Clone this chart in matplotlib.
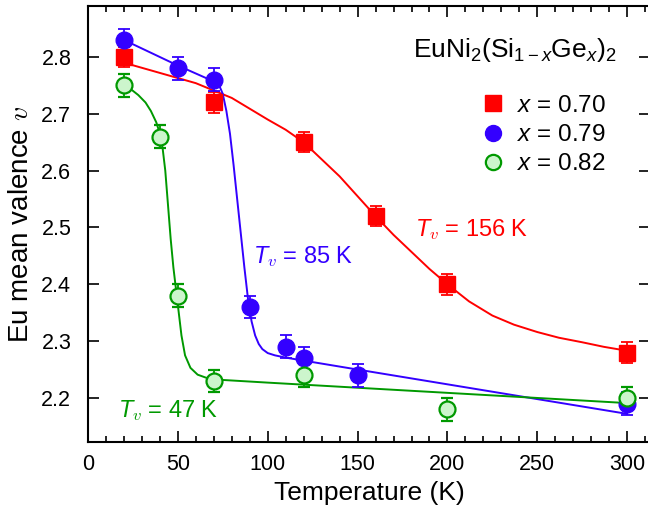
import matplotlib
matplotlib.use("Agg")
import matplotlib.pyplot as plt
from matplotlib.lines import Line2D

plt.rcParams.update({"font.family": ["Liberation Sans", "DejaVu Sans"],
                     "mathtext.fontset": "custom", "mathtext.rm": "Liberation Sans",
                     "mathtext.it": "Liberation Sans:italic", "mathtext.cal": "cmmi10",
                     "axes.linewidth": 1.5})
RED, BLUE, GREEN, GFILL = "#ff0000", "#3300ff", "#009900", "#ccf5cc"

# measured points
t_070 = [20, 70, 120, 160, 200, 300]
v_070 = [2.80, 2.72, 2.65, 2.52, 2.40, 2.28]
t_079 = [20, 50, 70, 90, 110, 120, 150, 300]
v_079 = [2.83, 2.78, 2.76, 2.36, 2.29, 2.27, 2.24, 2.19]
t_082 = [20, 40, 50, 70, 120, 200, 300]
v_082 = [2.75, 2.66, 2.38, 2.23, 2.24, 2.18, 2.20]
err_070, err_079, err_082 = 0.018, 0.02, 0.02

# fit curves
ft_070 = [20, 40, 60, 80, 100, 110, 120, 130, 140, 150, 160, 170, 180, 190, 200, 212, 225, 237, 250, 262, 275, 287, 300]
fv_070 = [2.79, 2.772, 2.754, 2.728, 2.69, 2.672, 2.65, 2.62, 2.59, 2.555, 2.52, 2.487, 2.457, 2.427, 2.40,
          2.37, 2.345, 2.329, 2.316, 2.306, 2.298, 2.29, 2.283]
ft_079 = [20, 50, 70, 73, 75, 77, 79, 81, 83, 85, 87, 89, 91, 93, 95, 97, 100, 104, 110, 150, 200, 250, 300]
fv_079 = [2.83, 2.785, 2.757, 2.75, 2.735, 2.705, 2.665, 2.61, 2.55, 2.49, 2.43, 2.375, 2.335, 2.31, 2.295,
          2.286, 2.279, 2.275, 2.271, 2.25, 2.224, 2.198, 2.172]
ft_082 = [20, 24, 28, 32, 35, 38, 40, 41.5, 43, 44.5, 46, 47.5, 49, 50.5, 52, 54, 57, 61, 68, 100, 150, 200, 250, 300]
fv_082 = [2.75, 2.743, 2.733, 2.72, 2.705, 2.685, 2.665, 2.64, 2.60, 2.54, 2.48, 2.43, 2.39, 2.35, 2.31,
          2.275, 2.253, 2.241, 2.233, 2.227, 2.218, 2.209, 2.200, 2.191]

labels = ["$x$ = 0.70", "$x$ = 0.79", "$x$ = 0.82"]

fig = plt.figure(figsize=(6.48, 5.15), dpi=100)
ax = fig.add_axes([88/648, 73/515, 562/648, 436/515])

ax.plot(ft_070, fv_070, color=RED, lw=1.4, zorder=2)
ax.plot(ft_079, fv_079, color=BLUE, lw=1.4, zorder=2)
ax.plot(ft_082, fv_082, color=GREEN, lw=1.4, zorder=2)

eb = dict(ls="none", capsize=4.5, capthick=1.3, elinewidth=1.3, zorder=3)
ax.errorbar(t_070, v_070, yerr=err_070, marker="s", ms=11.5, mfc=RED, mec=RED, color=RED, **eb)
ax.errorbar(t_079, v_079, yerr=err_079, marker="o", ms=12, mfc=BLUE, mec=BLUE, color=BLUE, **eb)
ax.errorbar(t_082, v_082, yerr=err_082, marker="o", ms=11.5, mfc=GFILL, mec=GREEN, mew=1.6, color=GREEN, **eb)

ax.text(182, 2.497, r"$T_{\mathcal{v}}$ = 156 K", color=RED, fontsize=17, va="center")
ax.text(92, 2.448, r"$T_{\mathcal{v}}$ = 85 K", color=BLUE, fontsize=17, va="center")
ax.text(16.5, 2.177, r"$T_{\mathcal{v}}$ = 47 K", color=GREEN, fontsize=17, va="center")

ax.text(0.941, 0.899, r"EuNi$_2$(Si$_{1-x}$Ge$_x$)$_2$", transform=ax.transAxes,
        ha="right", va="center", fontsize=19)
handles = [Line2D([], [], ls="none", marker="s", ms=11, mfc=RED, mec=RED),
           Line2D([], [], ls="none", marker="o", ms=11.5, mfc=BLUE, mec=BLUE),
           Line2D([], [], ls="none", marker="o", ms=11, mfc=GFILL, mec=GREEN, mew=1.6)]
ax.legend(handles, labels, loc="upper right", bbox_to_anchor=(0.922, 0.796), frameon=False,
          fontsize=17.5, borderpad=0, borderaxespad=0, handlelength=1.0, handletextpad=0.5,
          labelspacing=0.29)

ax.set_xlim(0, 312.7)
ax.set_ylim(2.1225, 2.8898)
ax.set_xticks(range(0, 301, 50))
ax.set_xticks(range(0, 311, 10), minor=True)
ax.set_yticks([2.2, 2.3, 2.4, 2.5, 2.6, 2.7, 2.8])
ax.tick_params(which="both", direction="in", top=True, right=True, width=1.2, labelsize=15.5)
ax.tick_params(which="major", length=8)
ax.tick_params(which="minor", length=4.5)
ax.tick_params(axis="x", pad=9)
ax.tick_params(axis="y", pad=12)
ax.set_xlabel("Temperature (K)", fontsize=19, labelpad=4)
ax.set_ylabel(r"Eu mean valence $\mathcal{v}$", fontsize=20, labelpad=5)

fig.savefig("out.png", dpi=100)
